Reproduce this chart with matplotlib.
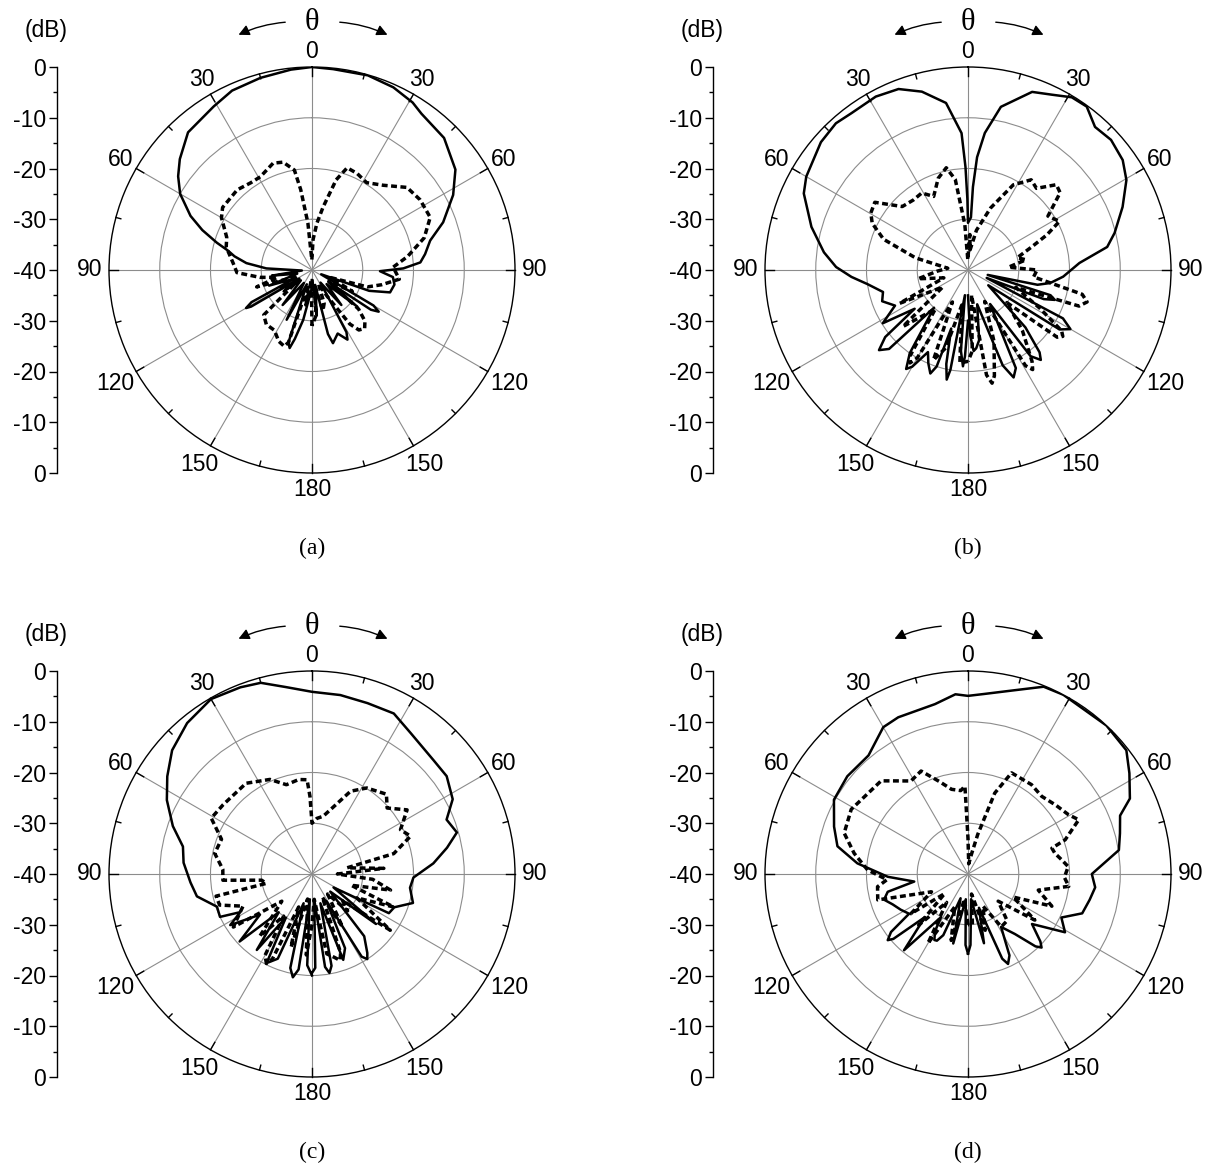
#!/usr/bin/env python3
"""
Radiation patterns (a)-(d): co-pol (solid) and cross-pol (dashed)
"""
import numpy as np
import matplotlib
matplotlib.use("Agg")
import matplotlib.pyplot as plt
from matplotlib.patches import FancyArrowPatch

plt.rcParams['font.family'] = ['Liberation Sans', 'DejaVu Sans']

# angles in degrees (negative = left half of the plot), levels in dB
a_co_ang = [-180, -178, -170, -166, -164, -162, -160, -153, -148, -140, -133, -127, -124, -121, -120,
            -118, -116, -110, -104, -98, -93, -88, -84, -80, -77, -74, -70, -66, -60, -55, -50, -42,
            -31, -24, -15, -6, 0, 6, 16, 24, 31, 35, 45, 55, 62, 70, 76, 82, 86, 89, 91, 95, 100, 106,
            110, 115, 120, 122, 124, 126, 129, 134, 140, 146, 151, 153, 158, 164, 166, 168, 174, 178, 180]
a_co_db = [-38, -36, -30, -26, -24, -25, -37, -29, -37, -31, -37, -33, -37, -26, -25,
           -26.5, -36, -31, -37, -32, -38, -31, -27, -24.5, -23, -20.5, -17, -13.8, -10, -7.8, -6, -3.5,
           -2.4, -1.3, -0.8, -0.3, 0, -0.2, -0.1, -0.6, -1.5, -2.4, -3.2, -5.5, -8.5, -12.5, -16, -17.5, -18.6, -22, -26.6, -24, -23.5, -24,
           -28, -38, -26, -24.5, -26, -36, -28.5, -36, -31, -37, -26, -24.6, -26.5, -25, -27, -37, -31, -38, -38]

a_cx_ang = [-180, -176, -170, -166, -162, -160, -155, -148, -140, -133, -128, -120, -114, -107, -102,
            -98, -92, -85, -75, -69, -60, -55, -43, -35, -29, -20, -15, -10, -8, -5, -1,
            2, 6, 10, 15, 19, 25, 32, 40, 49, 57, 66, 74, 82, 88, 96, 102, 107, 112, 118, 124,
            130, 134, 138, 142, 145, 150, 155, 160, 165, 170, 175, 180]
a_cx_db = [-29, -38, -33, -37, -25, -24, -24.5, -26, -26, -27, -36, -33, -37, -28.6, -33,
           -29.6, -25.2, -24.4, -22.5, -22, -19.4, -18.5, -18.4, -19, -19, -17.6, -18, -20, -24, -30.7, -38,
           -34, -30.7, -27.4, -21.6, -18.7, -19, -19.7, -18.2, -15.2, -14.6, -14.5, -17, -21, -24, -22.7, -26, -28.6, -36,
           -31, -36, -28, -25.5, -24.5, -25, -27, -34, -37, -33, -31.7, -37, -31, -29]

b_co_ang = [-180, -178, -177, -175, -173, -170, -169, -167, -164, -162, -160, -157, -154, -150, -148,
            -145, -138, -135, -132, -129, -126, -122, -116, -110, -104.5, -98, -93.4, -88.7, -83, -74.6,
            -65, -60, -49, -42, -36.6, -28, -21, -14.5, -7.5, -2.7, -1.4, -0.5, 0, 3.2, 3.4, 4.6, 7, 11.4,
            19.8, 25.6, 31, 36, 41.6, 47.7, 54.6, 60.4, 67.8, 75.8, 80.6, 86.4, 94, 99, 102, 104, 107, 109,
            111, 113, 117, 120, 123, 127, 135, 139, 141, 144, 147, 154, 157, 160, 165, 171, 174, 176, 178, 180]
b_co_db = [-30, -23, -21, -24, -35, -20, -18, -21, -28, -20, -18.3, -20, -22, -18, -17,
           -20, -30, -18, -16.4, -19, -27, -20.2, -24, -22, -22.7, -20, -17, -14, -11.4, -8,
           -4.3, -3.2, -1.6, -1.1, -1.5, -1.3, -1.8, -3.7, -6.8, -13, -19.7, -26, -30.7, -29.6, -23.6, -17.7, -12.8, -7.2,
           -2.7, -1.7, -0.3, -0.2, -2.3, -1.9, -2.6, -4.1, -7.1, -10.2, -12.2, -18, -21.2, -23.6, -26, -36, -23, -21.9,
           -24, -36, -19, -16.7, -18.5, -35, -24, -18.5, -17.2, -19, -32, -18.5, -17, -20, -33, -26, -24.5, -24, -27, -35]

b_cx_ang = [-180, -175, -170, -164, -159, -154, -150, -148, -146, -140, -131, -124, -116, -108, -100,
            -92, -85, -77, -70, -64, -59.6, -54, -46, -38, -31, -25, -18, -12, -8, -4, -1,
            3, 6, 12, 20, 28, 35, 40, 46, 50, 56, 62, 66, 70, 76, 80, 86, 90, 96, 102, 105, 108, 110,
            118, 123, 125, 127, 130, 138, 145, 147, 149, 152, 160, 166, 168, 170, 172, 177, 180]
b_cx_db = [-22, -21.6, -33, -24, -21, -33, -20, -18.4, -19.5, -30, -23, -34, -25, -35, -30,
           -34, -36, -29.4, -22.3, -19, -17.8, -17.3, -22, -22.5, -22.3, -24, -21, -19.4, -22, -31, -38,
           -33, -36, -32, -27, -21, -18.3, -19, -15.8, -16.3, -21, -19.6, -23, -26.6, -30, -28.4, -32, -26.4, -27, -17, -15.7, -17, -30,
           -24, -18, -17.2, -18, -30, -24, -18, -16.6, -18, -33, -25, -18.5, -17.2, -19, -35, -24, -22]

c_co_ang = [-180, -177, -175, -172, -169.5, -167, -164, -158, -153, -149, -144, -139, -133, -128, -122,
            -118, -115, -109, -101, -94, -85, -78, -71, -63, -56, -48.5, -39.6, -30, -21, -15, -8,
            0, 9, 18, 27, 35, 47, 54, 62, 68, 74, 79, 85, 92, 98, 106, 112, 117, 122, 128, 134,
            140, 145, 147, 149, 152, 156, 160, 164, 168, 170, 172, 175, 178, 180]
c_co_db = [-20, -22, -35, -21, -19.3, -21, -34, -22, -20.3, -30, -21.5, -30, -20.5, -27, -21,
           -24, -20, -20.2, -16.9, -16, -14.6, -14, -11, -7.9, -5.6, -3.2, -1.4, -0.2, -0.6, -1, -2.8,
           -4.1, -4.3, -4.6, -4.5, -6.1, -7.2, -7.2, -8.6, -11.4, -10.3, -12.9, -16, -20, -20.5, -19.3, -22.5, -23, -35, -24, -35,
           -24, -21, -20, -21, -34, -24, -22, -34, -21.5, -20.2, -21.5, -35, -21.5, -20.5]

c_cx_ang = [-180, -176, -170, -164, -158, -155, -153, -150, -146, -140, -132, -124, -115, -108.6, -103,
            -101.6, -97, -94, -87, -78, -69, -61, -52, -36, -24, -16, -8, -3, -1.5,
            0, 5, 11, 18, 25, 32.5, 43, 48.7, 56, 63.4, 69, 76, 80, 85.5, 90, 95, 101.6, 106, 112,
            118, 125.7, 131, 136, 142, 150, 156, 160, 162, 165, 169.5, 175, 180]
c_cx_db = [-30, -24, -35, -25, -33, -21.5, -20.2, -21.5, -30, -24, -32, -21.3, -25, -20.8, -20.6,
           -30.8, -30, -22.4, -22.4, -20.4, -20.9, -17.3, -17.8, -17.9, -19.6, -21.7, -21.2, -21.4, -24.7,
           -30, -29, -28.4, -26, -22, -19.9, -18.5, -20.3, -17.4, -20.5, -19.2, -23.4, -33, -25.8, -35, -28, -24.2, -32, -22.6,
           -30, -21, -32, -29.9, -35, -28, -35, -23.5, -22.1, -23, -24, -35, -30]

d_co_ang = [-180, -178, -175, -168, -163, -158, -155, -153, -150, -148, -140, -135, -131, -129.5, -127,
            -124, -118, -112, -107, -102.5, -98, -92, -84.5, -78, -70.5, -61, -51, -40, -30, -24, -11,
            -4, 0, 5, 14, 22, 28, 43, 52, 58, 65, 69, 75, 81, 90, 96, 102, 109, 115, 121, 128, 133,
            135, 137, 142, 148, 153, 156, 158, 162, 167, 173, 178, 180]
d_co_db = [-24.3, -26, -35, -26, -35, -27, -25.5, -25.4, -27, -30, -20.4, -28, -20.5, -19.5, -21,
           -26, -25, -24, -22.7, -23.8, -29.3, -24.2, -18.1, -13.7, -12, -9.8, -9.4, -9.5, -6.6, -6.2, -5.9,
           -4.5, -4.9, -4.4, -2.7, -0.2, 0, 0, -0.4, -2.5, -4.8, -7.9, -9, -9.9, -15.6, -14.8, -15.5, -16.2, -19.7, -17.7, -24, -20.5,
           -19.5, -20.5, -25, -27.7, -22, -20.6, -22, -33, -26, -35, -26, -24.3]

d_cx_ang = [-180, -172, -165.8, -158, -150, -143, -136, -130, -124.8, -116, -106, -98, -94, -87.7,
            -79.7, -71.7, -61, -43, -31.5, -24.5, -17, -11, -5, -2, -1,
            0, 4, 10, 13.8, 18.3, 23.3, 35.4, 43.5, 52, 59.5, 63.9, 70.6, 72.9, 76.6, 81.5, 85.8, 92,
            97, 102.9, 111, 117, 124.6, 132, 140, 147.7, 155, 163, 170, 175, 180]
d_cx_db = [-30, -35, -26.5, -33, -24.2, -33, -26, -34, -26.3, -32, -21.5, -22, -24, -20.2,
           -17.2, -14.3, -13.7, -14.9, -18.5, -17.7, -21, -23, -23.5, -22.7, -30,
           -33, -38, -36, -32, -23.2, -18.3, -18.4, -18.9, -18, -17, -15.7, -19.7, -22.7, -22.4, -21.3, -20.2, -21,
           -20, -25.8, -22.3, -30, -24, -32, -28, -27.7, -33, -28.4, -36, -30, -30]

panel_names = ['(a)', '(b)', '(c)', '(d)']
angle_labels = ['0', '30', '60', '90', '120', '150', '180', '150', '120', '90', '60', '30']

FIG_W, FIG_H = 1213, 1166
R_PX = 203
DB_MIN = -40
FS = 16.5


def fx(x):
    return x / FIG_W


def fy(y):
    # y measured from the top of the figure in pixels
    return 1 - y / FIG_H


def draw_panel(fig, cx, cy, co_ang, co_db, cx_ang, cx_db, name):
    ax = fig.add_axes([fx(cx - R_PX), fy(cy + R_PX), fx(2 * R_PX), 2 * R_PX / FIG_H],
                      projection='polar')
    ax.set_theta_zero_location('N')
    ax.set_theta_direction(-1)
    ax.set_ylim(0, -DB_MIN)
    ax.set_thetagrids(range(0, 360, 30), labels=[])
    ax.set_rgrids([10, 20, 30], labels=[])
    ax.grid(True, color='#8c8c8c', lw=0.8)
    ax.spines['polar'].set_linewidth(1.0)
    ax.tick_params(length=0)

    # ticks on the outer circle
    for deg in range(0, 360, 15):
        t = np.deg2rad(deg)
        ln = 1.7 if deg % 30 == 0 else 1.0
        ax.plot([t, t], [40 - ln, 40], color='k', lw=1.0, clip_on=False)

    # angle labels
    rr = {0: 43.0, 30: 43.4, 60: 43.5, 90: 43.9, 120: 44.8, 150: 44.3, 180: 43.3}
    for i, lab in enumerate(angle_labels):
        deg = i * 30
        key = deg if deg <= 180 else 360 - deg
        ax.text(np.deg2rad(deg), rr[key], lab, ha='center', va='center', fontsize=FS,
                clip_on=False)

    th = np.deg2rad(co_ang)
    ax.plot(th, np.array(co_db) - DB_MIN, color='k', lw=1.8, solid_joinstyle='round')
    th = np.deg2rad(cx_ang)
    ax.plot(th, np.array(cx_db) - DB_MIN, color='k', lw=2.5, linestyle=(0, (1.7, 1.0)))

    # dB scale on the left
    sx = cx - 255
    sax = fig.add_axes([fx(sx), fy(cy + R_PX), 0.0005, 2 * R_PX / FIG_H])
    sax.set_facecolor('none')
    for sp in ['top', 'right', 'bottom']:
        sax.spines[sp].set_visible(False)
    sax.spines['left'].set_linewidth(1.0)
    sax.set_xticks([])
    sax.set_ylim(0, 80)
    ticks = list(range(0, 81, 10))
    sax.set_yticks(ticks)
    sax.set_yticklabels([str(-(40 - abs(v - 40))) for v in ticks], fontsize=FS)
    sax.set_yticks(range(0, 81, 5), minor=True)
    sax.tick_params(which='major', length=6, width=1.0, pad=2)
    sax.tick_params(which='minor', length=3, width=1.0)

    fig.text(fx(sx - 11), fy(cy - 240), '(dB)', ha='center', va='center', fontsize=FS)

    # theta marker with arrows
    fig.text(fx(cx), fy(cy - 248), '\u03b8', ha='center', va='center', fontsize=22,
             family=['Liberation Serif', 'DejaVu Serif'])
    fig.add_artist(FancyArrowPatch((fx(cx - 24), fy(cy - 248)), (fx(cx - 76), fy(cy - 234)),
                                   transform=fig.transFigure, arrowstyle='-|>',
                                   mutation_scale=16, lw=1.0, color='k',
                                   connectionstyle='arc3,rad=0.1'))
    fig.add_artist(FancyArrowPatch((fx(cx + 25), fy(cy - 248)), (fx(cx + 78), fy(cy - 234)),
                                   transform=fig.transFigure, arrowstyle='-|>',
                                   mutation_scale=16, lw=1.0, color='k',
                                   connectionstyle='arc3,rad=-0.1'))

    fig.text(fx(cx), fy(cy + 278), name, ha='center', va='center', fontsize=17,
             family=['Liberation Serif', 'DejaVu Serif'])


def main():
    fig = plt.figure(figsize=(FIG_W / 100, FIG_H / 100), dpi=100)
    draw_panel(fig, 312, 270, a_co_ang, a_co_db, a_cx_ang, a_cx_db, panel_names[0])
    draw_panel(fig, 968, 270, b_co_ang, b_co_db, b_cx_ang, b_cx_db, panel_names[1])
    draw_panel(fig, 312, 874, c_co_ang, c_co_db, c_cx_ang, c_cx_db, panel_names[2])
    draw_panel(fig, 968, 874, d_co_ang, d_co_db, d_cx_ang, d_cx_db, panel_names[3])
    fig.savefig('out.png', dpi=100)


if __name__ == "__main__":
    main()
